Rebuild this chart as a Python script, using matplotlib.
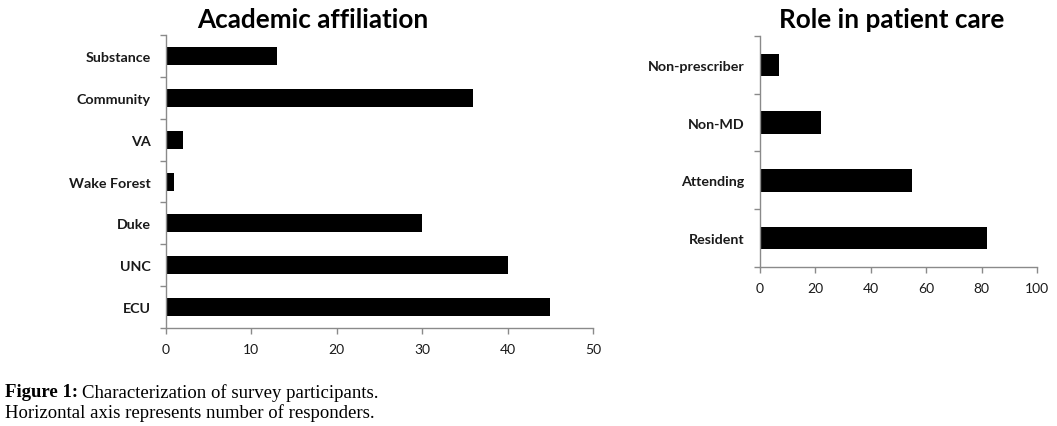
import matplotlib
matplotlib.use("Agg")
import matplotlib.pyplot as plt
import numpy as np

# left panel
affil_labels = ["ECU", "UNC", "Duke", "Wake Forest", "VA", "Community", "Substance"]
affil_values = [45, 40, 30, 1, 2, 36, 13]
affil_ticks = [0, 10, 20, 30, 40, 50]

# right panel
role_labels = ["Resident", "Attending", "Non-MD", "Non-prescriber"]
role_values = [82, 55, 22, 7]
role_ticks = [0, 20, 40, 60, 80, 100]

AXIS_GRAY = "#8a8a8a"
LABEL_FONT = "Lato"


def excel_barh(ax, labels, values, ticks, bar_h):
    n = len(labels)
    y = np.arange(n)
    ax.barh(y, values, height=bar_h, color="black")
    ax.set_xlim(ticks[0], ticks[-1])
    ax.set_ylim(-0.5, n - 0.5)
    # ticks between categories, labels at category centers
    ax.set_yticks(np.arange(n + 1) - 0.5)
    ax.set_yticklabels([])
    ax.set_yticks(y, minor=True)
    ax.set_yticklabels(labels, minor=True, fontweight="bold", fontsize=10.3,
                       family=LABEL_FONT, color="#1a1a1a")
    ax.tick_params(axis="y", which="minor", length=0, pad=11)
    ax.tick_params(axis="y", which="major", length=4, color=AXIS_GRAY, width=1)
    ax.set_xticks(ticks)
    ax.set_xticklabels([str(t) for t in ticks], fontsize=10, family=LABEL_FONT,
                       color="#1a1a1a")
    ax.tick_params(axis="x", length=4, color=AXIS_GRAY, width=1, pad=7)
    for s in ["top", "right"]:
        ax.spines[s].set_visible(False)
    for s in ["left", "bottom"]:
        ax.spines[s].set_color(AXIS_GRAY)
        ax.spines[s].set_linewidth(1)


fig = plt.figure(figsize=(10.57, 4.27), dpi=100)

ax1 = fig.add_axes([0.157, 0.2295, 0.404, 0.686])
excel_barh(ax1, affil_labels, affil_values, affil_ticks, 0.43)

ax2 = fig.add_axes([0.719, 0.3724, 0.262, 0.541])
excel_barh(ax2, role_labels, role_values, role_ticks, 0.39)

fig.text(313 / 1057, 1 - 20 / 427, "Academic affiliation", ha="center", va="center",
         fontsize=18.8, fontweight="bold", family=LABEL_FONT)
fig.text(892 / 1057, 1 - 20 / 427, "Role in patient care", ha="center", va="center",
         fontsize=18.8, fontweight="bold", family=LABEL_FONT)

# caption: bold lead-in followed by regular text
cap1 = fig.text(5 / 1057, 1 - 393 / 427, "Figure 1:", ha="left", va="center",
                fontsize=13.5, fontweight="bold", family="Liberation Serif")
r = fig.canvas.get_renderer()
bb = cap1.get_window_extent(renderer=r)
fig.text((bb.x1 + 4) / 1057, 1 - 393 / 427, "Characterization of survey participants.",
         ha="left", va="center", fontsize=13.5, family="Liberation Serif")
fig.text(5 / 1057, 1 - 413 / 427, "Horizontal axis represents number of responders.",
         ha="left", va="center", fontsize=13.5, family="Liberation Serif")

fig.savefig("out.png", dpi=100)
